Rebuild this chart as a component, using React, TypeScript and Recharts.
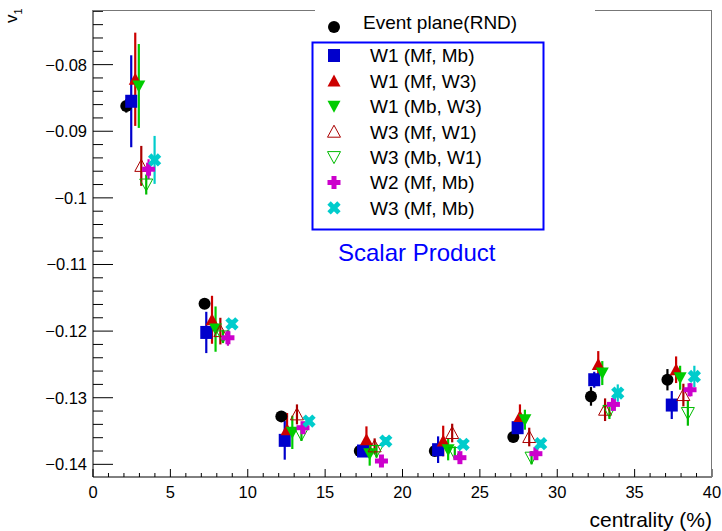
import { ScatterChart, Scatter, XAxis, YAxis, ErrorBar } from 'recharts'

// each point: [centrality, v1, stat. error]
type Pt = [number, number, number]

const eventPlaneRnd: Pt[] = [
  [2.15, -0.0862, 0.001], [7.21, -0.1159, 0.0007], [12.17, -0.1328, 0.0007], [17.24, -0.138, 0.0007],
  [22.09, -0.138, 0.0007], [27.16, -0.1359, 0.0008], [32.18, -0.1298, 0.0014], [37.12, -0.1273, 0.0016],
]
const w1MfMb: Pt[] = [
  [2.47, -0.0855, 0.0069], [7.32, -0.1202, 0.0031], [12.39, -0.1364, 0.0029], [17.45, -0.138, 0.0008],
  [22.3, -0.1378, 0.002], [27.44, -0.1345, 0.0015], [32.39, -0.1273, 0.0012], [37.4, -0.1311, 0.0021],
]
const w1MfW3: Pt[] = [
  [2.73, -0.0822, 0.007], [7.69, -0.1183, 0.0036], [12.54, -0.1348, 0.0025], [17.67, -0.1363, 0.002],
  [22.63, -0.1365, 0.0023], [27.59, -0.1328, 0.0018], [32.65, -0.125, 0.002], [37.68, -0.1258, 0.002],
]
const w1MbW3: Pt[] = [
  [2.96, -0.0832, 0.0063], [7.92, -0.1197, 0.0034], [12.88, -0.1352, 0.0025], [17.88, -0.1384, 0.0018],
  [22.95, -0.1378, 0.0016], [27.91, -0.1333, 0.0015], [32.91, -0.1263, 0.0018], [37.94, -0.127, 0.0018],
]
const w3MfW1: Pt[] = [
  [3.12, -0.0952, 0.003], [8.23, -0.12, 0.002], [13.18, -0.1325, 0.0015], [18.2, -0.1373, 0.0012],
  [23.21, -0.1353, 0.0014], [28.19, -0.1359, 0.0014], [33.09, -0.1318, 0.0017], [38.15, -0.1296, 0.0017],
]
const w3MbW1: Pt[] = [
  [3.44, -0.098, 0.0015], [8.4, -0.1208, 0.001], [13.47, -0.1355, 0.001], [18.32, -0.138, 0.001],
  [23.38, -0.1383, 0.001], [28.34, -0.139, 0.001], [33.37, -0.132, 0.0012], [38.44, -0.1323, 0.0019],
]
const w2MfMb: Pt[] = [
  [3.59, -0.0957, 0.0015], [8.72, -0.121, 0.0012], [13.57, -0.1345, 0.0008], [18.64, -0.1395, 0.0008],
  [23.71, -0.139, 0.0008], [28.62, -0.1384, 0.0008], [33.63, -0.131, 0.0009], [38.58, -0.1288, 0.001],
]
const w3MfMb: Pt[] = [
  [3.98, -0.0943, 0.0036], [8.98, -0.1189, 0.0006], [13.96, -0.1335, 0.0005], [18.92, -0.1365, 0.0006],
  [23.92, -0.137, 0.0006], [28.93, -0.1369, 0.0006], [33.91, -0.1293, 0.0013], [38.86, -0.1268, 0.0016],
]

const xLabels = [0, 5, 10, 15, 20, 25, 30, 35, 40]
const xMinor = Array.from({ length: 41 }, (_, i) => i)
const yLabels = [-0.14, -0.13, -0.12, -0.11, -0.1, -0.09, -0.08]
const yMinor = Array.from({ length: 35 }, (_, i) => +(-0.14 + i * 0.002).toFixed(3))

type Kind = 'circle' | 'square' | 'up' | 'down' | 'upOpen' | 'downOpen' | 'plus' | 'cross'

const series: { name: string; data: Pt[]; kind: Kind; color: string }[] = [
  { name: 'Event plane(RND)', data: eventPlaneRnd, kind: 'circle', color: '#000000' },
  { name: 'W1 (Mf, Mb)', data: w1MfMb, kind: 'square', color: '#0000cc' },
  { name: 'W1 (Mf, W3)', data: w1MfW3, kind: 'up', color: '#cc0000' },
  { name: 'W1 (Mb, W3)', data: w1MbW3, kind: 'down', color: '#00cc00' },
  { name: 'W3 (Mf, W1)', data: w3MfW1, kind: 'upOpen', color: '#aa0000' },
  { name: 'W3 (Mb, W1)', data: w3MbW1, kind: 'downOpen', color: '#00bb00' },
  { name: 'W2 (Mf, Mb)', data: w2MfMb, kind: 'plus', color: '#cc00cc' },
  { name: 'W3 (Mf, Mb)', data: w3MfMb, kind: 'cross', color: '#00cccc' },
]

const FONT = '"Liberation Sans", Arial, Helvetica, sans-serif'

function Marker({ kind, cx, cy, color }: { kind: Kind; cx: number; cy: number; color: string }) {
  const s = 6.5
  switch (kind) {
    case 'circle':
      return <circle cx={cx} cy={cy} r={6} fill={color} />
    case 'square':
      return <rect x={cx - 6} y={cy - 6.5} width={12} height={13} fill={color} />
    case 'up':
      return <polygon points={`${cx - s},${cy + 5.5} ${cx + s},${cy + 5.5} ${cx},${cy - 6.5}`} fill={color} />
    case 'down':
      return <polygon points={`${cx - s},${cy - 5.5} ${cx + s},${cy - 5.5} ${cx},${cy + 6.5}`} fill={color} />
    case 'upOpen':
      return <polygon points={`${cx - s},${cy + 5.5} ${cx + s},${cy + 5.5} ${cx},${cy - 6.5}`} fill="none" stroke={color} strokeWidth={1} />
    case 'downOpen':
      return <polygon points={`${cx - s},${cy - 5.5} ${cx + s},${cy - 5.5} ${cx},${cy + 6.5}`} fill="none" stroke={color} strokeWidth={1} />
    case 'plus':
      return (
        <g fill={color}>
          <rect x={cx - 6.5} y={cy - 2.5} width={13} height={5} />
          <rect x={cx - 2.5} y={cy - 6.5} width={5} height={13} />
        </g>
      )
    case 'cross':
      return (
        <g fill={color} transform={`rotate(45 ${cx} ${cy})`}>
          <rect x={cx - 7} y={cy - 2.4} width={14} height={4.8} />
          <rect x={cx - 2.4} y={cy - 7} width={4.8} height={14} />
        </g>
      )
  }
}

const XTick = (p: any) => {
  const v = p.payload.value
  const major = xLabels.includes(v)
  return (
    <g>
      <line x1={p.x} x2={p.x} y1={p.y} y2={p.y - (major ? 8 : 4)} stroke="#000" />
      {major && (
        <text x={p.x} y={p.y + 21} textAnchor="middle" fontSize={16.5} fontFamily={FONT} fill="#000">
          {v}
        </text>
      )}
    </g>
  )
}

const YTick = (p: any) => {
  const v = p.payload.value
  const major = yLabels.some(l => Math.abs(l - v) < 1e-6)
  return (
    <g>
      <line x1={p.x} x2={p.x + (major ? 20 : 10)} y1={p.y} y2={p.y} stroke="#000" />
      {major && (
        <text x={p.x - 6} y={p.y + 6} textAnchor="end" fontSize={16.5} fontFamily={FONT} fill="#000">
          {String(Math.round(v * 100) / 100).replace('-', '\u2212')}
        </text>
      )}
    </g>
  )
}

export default function App() {
  const legendY = [55.5, 80.9, 106.3, 131.7, 157.1, 182.5, 207.9]
  return (
    <div style={{ position: 'absolute', left: 0, top: 0, width: 722, height: 531, background: '#fff' }}>
      <ScatterChart width={722} height={531} margin={{ top: 10, right: 10, bottom: 0, left: 0 }}>
        <XAxis
          dataKey="x"
          type="number"
          domain={[0, 40]}
          ticks={xMinor}
          interval={0}
          height={54}
          tickSize={0}
          tickMargin={0}
          tickLine={false}
          tick={XTick}
          axisLine={{ stroke: '#000' }}
          allowDataOverflow
        />
        <YAxis
          dataKey="y"
          type="number"
          domain={[-0.1419, -0.0718]}
          ticks={yMinor}
          interval={0}
          width={93}
          tickSize={0}
          tickMargin={0}
          tickLine={false}
          tick={YTick}
          axisLine={{ stroke: '#000' }}
          allowDataOverflow
        />
        {series.map(s => (
          <Scatter
            key={s.name}
            name={s.name}
            data={s.data.map(([x, y, e]) => ({ x, y, e }))}
            isAnimationActive={false}
            shape={(p: any) => <Marker kind={s.kind} cx={p.cx} cy={p.cy} color={s.color} />}
          >
            <ErrorBar dataKey="e" direction="y" width={0} stroke={s.color} strokeWidth={2.2} />
          </Scatter>
        ))}
      </ScatterChart>
      <svg width={722} height={531} style={{ position: 'absolute', left: 0, top: 0, pointerEvents: 'none' }} fontFamily={FONT}>
        <line x1={93} x2={712} y1={10.5} y2={10.5} stroke="#777" />
        <line x1={711.5} x2={711.5} y1={10} y2={477} stroke="#777" />
        <rect x={315} y={0} width={280} height={40} fill="#fff" />
        <Marker kind="circle" cx={334} cy={27} color="#000" />
        <text x={363} y={29} fontSize={19} fill="#000">Event plane(RND)</text>
        <rect x={312.5} y={42.5} width={231} height={187} fill="#fff" stroke="#0000ff" strokeWidth={2} />
        {series.slice(1).map((s, i) => (
          <g key={s.name}>
            <Marker kind={s.kind} cx={334} cy={legendY[i]} color={s.color} />
            <text x={370} y={legendY[i] + 6.8} fontSize={19} fill="#000">{s.name}</text>
          </g>
        ))}
        <text x={338} y={260.5} fontSize={24} fill="#0000ff">Scalar Product</text>
        <text x={712} y={527} fontSize={21} textAnchor="end" fill="#000">centrality (%)</text>
        <text transform="translate(17,23) rotate(-90)" fontSize={17} fill="#000">
          v<tspan dy={5} fontSize={11}>1</tspan>
        </text>
      </svg>
    </div>
  )
}
